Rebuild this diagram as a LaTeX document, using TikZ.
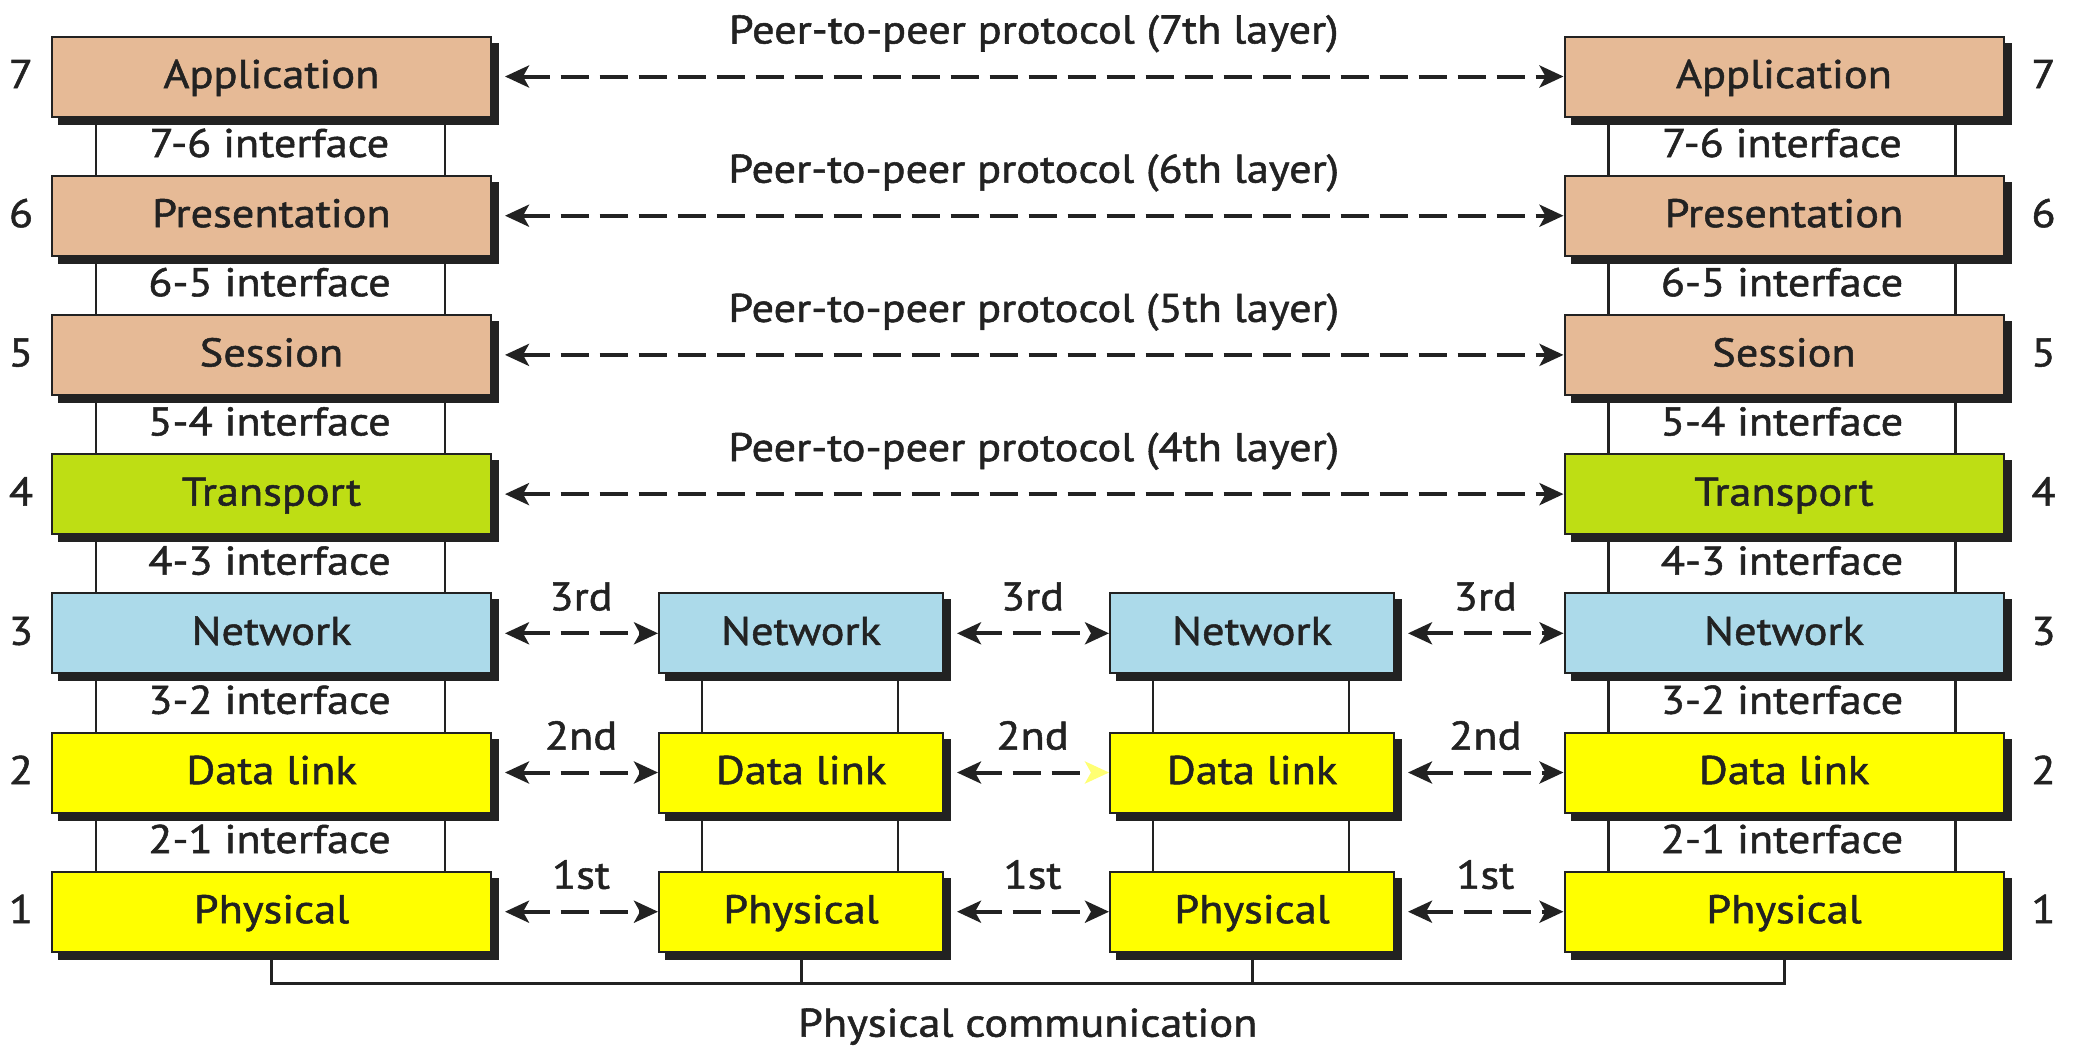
\documentclass[tikz,border=0pt]{standalone}
\usepackage{fontspec}
\setmainfont[FakeStretch=1.11, FakeBold=1.3]{PT Sans}
\usetikzlibrary{arrows.meta,calc}

\definecolor{layertan}{RGB}{230,186,150}
\definecolor{netblue}{RGB}{172,218,234}
\definecolor{transgreen}{RGB}{190,222,20}
\definecolor{linkyellow}{RGB}{255,255,0}
\definecolor{ink}{RGB}{34,34,34}

\pgfdeclarelayer{bg}
\pgfsetlayers{bg,main}

\tikzset{
  txt/.style={font=\fontsize{20}{24}\selectfont, text=ink, inner sep=0pt},
  layerbox/.style={txt, draw=ink, line width=1pt, minimum height=40pt,
    text height=14.5pt, text depth=3pt,
    preaction={fill=ink, draw=ink, transform canvas={xshift=3.5pt, yshift=-3.5pt}}},
  widebox/.style={layerbox, minimum width=219.5pt},
  narrowbox/.style={layerbox, minimum width=142pt},
  layernum/.style={txt, text height=14.5pt, text depth=3pt},
  ifacelbl/.style={txt, text height=14.5pt, text depth=3pt},
  iface/.style={draw=ink, line width=1.3pt},
  bus/.style={draw=ink, line width=1.5pt},
  peer/.style={draw=ink, line width=2pt, dash pattern=on 14pt off 5.5pt,
    {Stealth[length=12pt,width=11pt,inset=3pt]}-{Stealth[length=12pt,width=11pt,inset=3pt]}},
  peerlbl/.style={txt, anchor=base},
}

\begin{document}
\begin{tikzpicture}[x=0.5pt,y=-0.5pt]
\useasboundingbox (0,0) rectangle (2076,1050);

% the two end systems, seven layers each
\foreach \n/\lab/\col/\yy in {7/Application/layertan/76.5, 6/Presentation/layertan/215.7,
    5/Session/layertan/354.9, 4/Transport/transgreen/494.1, 3/Network/netblue/633.3,
    2/Data link/linkyellow/772.5, 1/Physical/linkyellow/911.7}{
  \node[widebox, fill=\col] (L\n) at (271.5,\yy) {\lab};
  \node[widebox, fill=\col] (R\n) at (1784,\yy) {\lab};
  \node[layernum] (nl\n) at ($(L\n.west)+(-30,0)$) {\n};
  \node[layernum] (nr\n) at ($(R\n.east)+(39,0)$) {\n};
}

% the two intermediate nodes, three layers each
\foreach \n/\lab/\col/\yy in {3/Network/netblue/633.3, 2/Data link/linkyellow/772.5,
    1/Physical/linkyellow/911.7}{
  \node[narrowbox, fill=\col] (A\n) at (801,\yy) {\lab};
  \node[narrowbox, fill=\col] (B\n) at (1252,\yy) {\lab};
}

% interfaces between adjacent layers, drawn beneath the boxes
\begin{pgfonlayer}{bg}
\fill[white] (0,0) rectangle (2076,1050);
\foreach \u/\d in {7/6,6/5,5/4,4/3,3/2,2/1}{
  \draw[iface] ($(L\u.south west)+(45,0)$) -- ($(L\d.north west)+(45,0)$);
  \draw[iface] ($(L\u.south east)+(-47,0)$) -- ($(L\d.north east)+(-47,0)$);
  \draw[iface] ($(R\u.south west)+(45,0)$) -- ($(R\d.north west)+(45,0)$);
  \draw[iface] ($(R\u.south east)+(-49,0)$) -- ($(R\d.north east)+(-49,0)$);
}
\foreach \u/\d in {3/2,2/1}{
  \draw[iface] ($(A\u.south west)+(44,0)$) -- ($(A\d.north west)+(44,0)$);
  \draw[iface] ($(A\u.south east)+(-46,0)$) -- ($(A\d.north east)+(-46,0)$);
  \draw[iface] ($(B\u.south west)+(44,0)$) -- ($(B\d.north west)+(44,0)$);
  \draw[iface] ($(B\u.south east)+(-46,0)$) -- ($(B\d.north east)+(-46,0)$);
}
% physical medium
\coordinate (busL) at ($(L1.south)+(0,31)$);
\coordinate (busR) at (busL -| R1.south);
\draw[bus] (L1.south) -- (busL) -- (busR) -- (R1.south);
\draw[bus] (A1.south) -- (A1.south |- busL);
\draw[bus] (B1.south) -- (B1.south |- busL);
\end{pgfonlayer}

\foreach \u/\d in {7/6,6/5,5/4,4/3,3/2,2/1}{
  \node[ifacelbl] (il\u) at ($(L\u.center)+(-2,69)$) {\u-\d{} interface};
  \node[ifacelbl] (ir\u) at ($(R\u.center)+(-2,69)$) {\u-\d{} interface};
}

% peer-to-peer protocols, layers 7 to 4
\foreach \n/\ord in {7/7th,6/6th,5/5th,4/4th}{
  \draw[peer] ($(L\n.east)+(13,0)$) -- (R\n.west);
  \node[peerlbl] (pp\n) at ($(L\n.east)!0.5!(R\n.west)+(6,-33)$) {Peer-to-peer protocol ({\ord} layer)};
}

% hop-by-hop protocols, layers 3 to 1
\foreach \n/\ord in {3/3rd,2/2nd,1/1st}{
  \draw[peer] ($(L\n.east)+(13,0)$) -- (A\n.west);
  \draw[peer] ($(B\n.east)+(13,0)$) -- (R\n.west);
  \node[peerlbl] (ha\n) at ($(L\n.east)!0.5!(A\n.west)+(6,-23)$) {\ord};
  \node[peerlbl] (hb\n) at ($(A\n.east)!0.5!(B\n.west)+(6,-23)$) {\ord};
  \node[peerlbl] (hc\n) at ($(B\n.east)!0.5!(R\n.west)+(6,-23)$) {\ord};
}
\draw[peer] ($(A3.east)+(13,0)$) -- (B3.west);
\draw[peer] ($(A1.east)+(13,0)$) -- (B1.west);
\draw[draw=ink, line width=2pt, dash pattern=on 14pt off 5.5pt,
  {Stealth[length=12pt,width=11pt,inset=3pt]}-{Stealth[length=12pt,width=11pt,inset=3pt,color=linkyellow!55!white]}]
  ($(A2.east)+(13,0)$) -- (B2.west);

\node[txt, anchor=base] (phys) at ($(busL)!0.5!(busR)+(0,53)$) {Physical communication};
\end{tikzpicture}
\end{document}
